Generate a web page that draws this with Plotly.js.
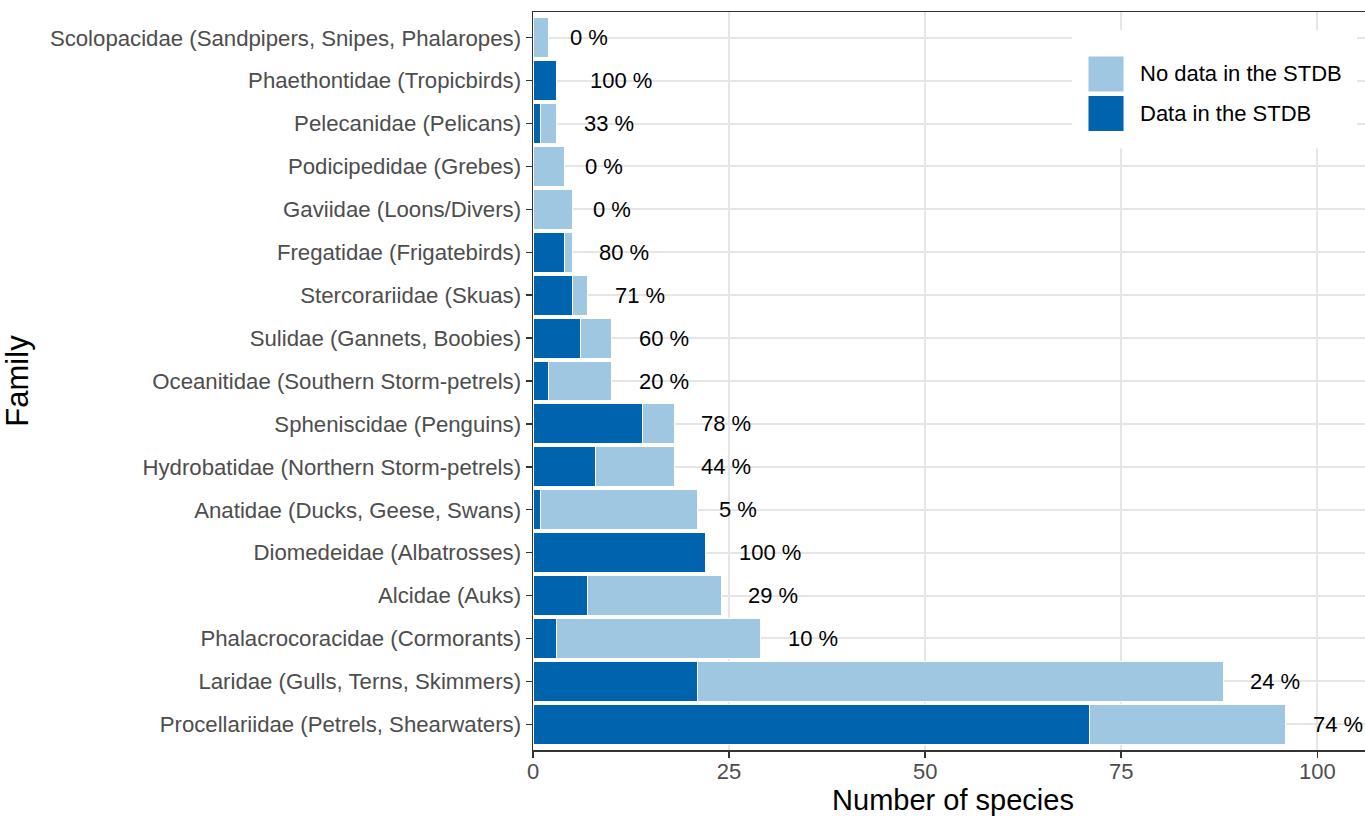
<!DOCTYPE html>
<html>
<head>
<meta charset="utf-8">
<script src="https://cdn.plot.ly/plotly-3.0.1.min.js"></script>
<style>
html, body { margin: 0; padding: 0; overflow: hidden; background: #ffffff; }
#chart { width: 1373px; height: 816px; }
</style>
</head>
<body>
<div id="chart"></div>
<script>
// Families, listed top to bottom as in the chart
const families = [
  "Scolopacidae (Sandpipers, Snipes, Phalaropes)",
  "Phaethontidae (Tropicbirds)",
  "Pelecanidae (Pelicans)",
  "Podicipedidae (Grebes)",
  "Gaviidae (Loons/Divers)",
  "Fregatidae (Frigatebirds)",
  "Stercorariidae (Skuas)",
  "Sulidae (Gannets, Boobies)",
  "Oceanitidae (Southern Storm-petrels)",
  "Spheniscidae (Penguins)",
  "Hydrobatidae (Northern Storm-petrels)",
  "Anatidae (Ducks, Geese, Swans)",
  "Diomedeidae (Albatrosses)",
  "Alcidae (Auks)",
  "Phalacrocoracidae (Cormorants)",
  "Laridae (Gulls, Terns, Skimmers)",
  "Procellariidae (Petrels, Shearwaters)"
];
// Number of species with data in the STDB
const withData = [0, 3, 1, 0, 0, 4, 5, 6, 2, 14, 8, 1, 22, 7, 3, 21, 71];
// Number of species without data in the STDB
const withoutData = [2, 0, 2, 4, 5, 1, 2, 4, 8, 4, 10, 20, 0, 17, 26, 67, 25];
// Percentage labels
const pctLabels = ["0 %", "100 %", "33 %", "0 %", "0 %", "80 %", "71 %", "60 %", "20 %",
                   "78 %", "44 %", "5 %", "100 %", "29 %", "10 %", "24 %", "74 %"];
const xTicks = [0, 25, 50, 75, 100];
const seriesNames = ["No data in the STDB", "Data in the STDB"];

const FONT = "Liberation Sans, Arial, Helvetica, sans-serif";
const LIGHT = "#A0C7E2";
const DARK = "#0063AE";
const GRID = "#E5E5E5";

const totals = families.map((f, i) => withData[i] + withoutData[i]);

// text width measurement (to mimic ggplot hjust = -0.5)
const cv = document.createElement("canvas");
const ctx = cv.getContext("2d");
ctx.font = '22px "Liberation Sans", Arial, sans-serif';

const traces = [
  {
    type: "bar", orientation: "h", name: seriesNames[1],
    x: withData, y: families, width: 0.93,
    marker: { color: DARK, line: { color: "#ffffff", width: 1 } },
    showlegend: false, hoverinfo: "x+y"
  },
  {
    type: "bar", orientation: "h", name: seriesNames[0],
    x: withoutData, y: families, width: 0.93,
    marker: { color: LIGHT, line: { color: "#ffffff", width: 1 } },
    showlegend: false, hoverinfo: "x+y"
  }
];

const annotations = families.map((f, i) => ({
  x: totals[i], y: f, xref: "x", yref: "y",
  text: pctLabels[i], showarrow: false,
  xanchor: "left", yanchor: "middle",
  xshift: 0.5 * ctx.measureText(pctLabels[i]).width,
  font: { family: FONT, size: 22, color: "#000000" }
}));

// legend (drawn as paper-positioned keys)
const legendKeys = [LIGHT, DARK];
const shapes = [
  { type: "rect", xref: "paper", yref: "paper", x0: 0.642, x1: 0.981, y0: 0.815, y1: 0.976,
    fillcolor: "#ffffff", line: { width: 0 }, layer: "above" }
];
legendKeys.forEach((c, k) => {
  const top = 0.9404 - k * 0.0535;
  shapes.push({ type: "rect", xref: "paper", yref: "paper",
    x0: 0.6607, x1: 0.7036, y0: top - 0.0488, y1: top,
    fillcolor: c, line: { color: "#ffffff", width: 1 }, layer: "above" });
  annotations.push({ xref: "paper", yref: "paper", x: 0.7205, y: top - 0.0244,
    xanchor: "left", yanchor: "middle", showarrow: false, text: seriesNames[k],
    font: { family: FONT, size: 22, color: "#000000" } });
});

const layout = {
  width: 1373, height: 816,
  margin: { l: 533, r: 0, t: 12, b: 66, pad: 0 },
  paper_bgcolor: "#ffffff", plot_bgcolor: "#ffffff",
  barmode: "stack", bargap: 0.07,
  font: { family: FONT, color: "#4D4D4D" },
  showlegend: false,
  xaxis: {
    range: [0, 107.1], tickvals: xTicks, ticktext: xTicks.map(String),
    ticks: "outside", ticklen: 6, tickwidth: 1.5, tickcolor: "#333333",
    ticklabelstandoff: -5,
    tickfont: { family: FONT, size: 22, color: "#4D4D4D" },
    showgrid: true, gridcolor: GRID, gridwidth: 2,
    zeroline: false, showline: true, mirror: true, linecolor: "#333333", linewidth: 1.5,
    title: { text: "Number of species", font: { family: FONT, size: 29, color: "#000000" }, standoff: 14 }
  },
  yaxis: {
    type: "category", categoryorder: "array", categoryarray: families,
    autorange: false, range: [16.6, -0.6],
    ticks: "outside", ticklen: 6, tickwidth: 1.5, tickcolor: "#333333",
    tickfont: { family: FONT, size: 22.2, color: "#4D4D4D" },
    showgrid: true, gridcolor: GRID, gridwidth: 2,
    zeroline: false, showline: true, linecolor: "#333333", linewidth: 1.5,
    title: { text: "Family", font: { family: FONT, size: 31, color: "#000000" }, standoff: 12 }
  },
  shapes: shapes,
  annotations: annotations
};

Plotly.newPlot("chart", traces, layout, { staticPlot: true, displayModeBar: false });
</script>
</body>
</html>
